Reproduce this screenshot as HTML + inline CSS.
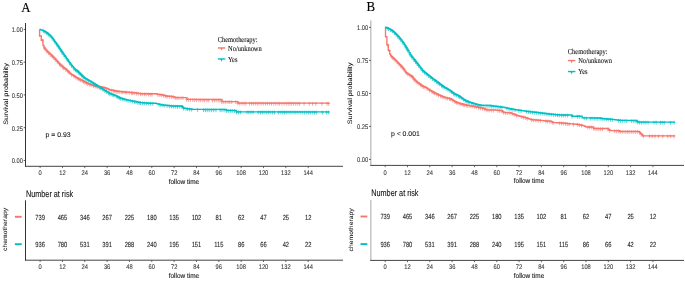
<!DOCTYPE html>
<html><head><meta charset="utf-8"><style>
html,body{margin:0;padding:0;background:#fff;}
svg{display:block;will-change:transform;}
text{text-rendering:geometricPrecision;}
</style></head><body>
<svg width="685" height="283" viewBox="0 0 685 283">
<rect width="685" height="283" fill="#fff"/>
<text transform="translate(21.30,11.50) scale(0.95,1.0)" font-family='"Liberation Serif", serif' font-size="13.6" fill="#000" stroke="#000" stroke-width="0.1">A</text>
<line x1="25.50" y1="23.00" x2="25.50" y2="166.80" stroke="#333" stroke-width="1.0"/>
<line x1="23.70" y1="160.45" x2="25.50" y2="160.45" stroke="#333" stroke-width="0.8"/>
<text transform="translate(22.90,163.45) scale(0.86,1.0)" text-anchor="end" font-family='"Liberation Sans", sans-serif' font-size="6.7" fill="#3a3a3a" stroke="#3a3a3a" stroke-width="0.1">0.00</text>
<line x1="23.70" y1="127.69" x2="25.50" y2="127.69" stroke="#333" stroke-width="0.8"/>
<text transform="translate(22.90,130.69) scale(0.86,1.0)" text-anchor="end" font-family='"Liberation Sans", sans-serif' font-size="6.7" fill="#3a3a3a" stroke="#3a3a3a" stroke-width="0.1">0.25</text>
<line x1="23.70" y1="94.92" x2="25.50" y2="94.92" stroke="#333" stroke-width="0.8"/>
<text transform="translate(22.90,97.92) scale(0.86,1.0)" text-anchor="end" font-family='"Liberation Sans", sans-serif' font-size="6.7" fill="#3a3a3a" stroke="#3a3a3a" stroke-width="0.1">0.50</text>
<line x1="23.70" y1="62.16" x2="25.50" y2="62.16" stroke="#333" stroke-width="0.8"/>
<text transform="translate(22.90,65.16) scale(0.86,1.0)" text-anchor="end" font-family='"Liberation Sans", sans-serif' font-size="6.7" fill="#3a3a3a" stroke="#3a3a3a" stroke-width="0.1">0.75</text>
<line x1="23.70" y1="29.40" x2="25.50" y2="29.40" stroke="#333" stroke-width="0.8"/>
<text transform="translate(22.90,32.40) scale(0.86,1.0)" text-anchor="end" font-family='"Liberation Sans", sans-serif' font-size="6.7" fill="#3a3a3a" stroke="#3a3a3a" stroke-width="0.1">1.00</text>
<line x1="25.00" y1="166.30" x2="343.00" y2="166.30" stroke="#444" stroke-width="1.0"/>
<line x1="40.10" y1="166.30" x2="40.10" y2="168.10" stroke="#444" stroke-width="0.8"/>
<text transform="translate(40.10,175.20) scale(0.86,1.0)" text-anchor="middle" font-family='"Liberation Sans", sans-serif' font-size="6.7" fill="#3a3a3a" stroke="#3a3a3a" stroke-width="0.1">0</text>
<line x1="62.44" y1="166.30" x2="62.44" y2="168.10" stroke="#444" stroke-width="0.8"/>
<text transform="translate(62.44,175.20) scale(0.86,1.0)" text-anchor="middle" font-family='"Liberation Sans", sans-serif' font-size="6.7" fill="#3a3a3a" stroke="#3a3a3a" stroke-width="0.1">12</text>
<line x1="84.78" y1="166.30" x2="84.78" y2="168.10" stroke="#444" stroke-width="0.8"/>
<text transform="translate(84.78,175.20) scale(0.86,1.0)" text-anchor="middle" font-family='"Liberation Sans", sans-serif' font-size="6.7" fill="#3a3a3a" stroke="#3a3a3a" stroke-width="0.1">24</text>
<line x1="107.12" y1="166.30" x2="107.12" y2="168.10" stroke="#444" stroke-width="0.8"/>
<text transform="translate(107.12,175.20) scale(0.86,1.0)" text-anchor="middle" font-family='"Liberation Sans", sans-serif' font-size="6.7" fill="#3a3a3a" stroke="#3a3a3a" stroke-width="0.1">36</text>
<line x1="129.46" y1="166.30" x2="129.46" y2="168.10" stroke="#444" stroke-width="0.8"/>
<text transform="translate(129.46,175.20) scale(0.86,1.0)" text-anchor="middle" font-family='"Liberation Sans", sans-serif' font-size="6.7" fill="#3a3a3a" stroke="#3a3a3a" stroke-width="0.1">48</text>
<line x1="151.80" y1="166.30" x2="151.80" y2="168.10" stroke="#444" stroke-width="0.8"/>
<text transform="translate(151.80,175.20) scale(0.86,1.0)" text-anchor="middle" font-family='"Liberation Sans", sans-serif' font-size="6.7" fill="#3a3a3a" stroke="#3a3a3a" stroke-width="0.1">60</text>
<line x1="174.14" y1="166.30" x2="174.14" y2="168.10" stroke="#444" stroke-width="0.8"/>
<text transform="translate(174.14,175.20) scale(0.86,1.0)" text-anchor="middle" font-family='"Liberation Sans", sans-serif' font-size="6.7" fill="#3a3a3a" stroke="#3a3a3a" stroke-width="0.1">72</text>
<line x1="196.48" y1="166.30" x2="196.48" y2="168.10" stroke="#444" stroke-width="0.8"/>
<text transform="translate(196.48,175.20) scale(0.86,1.0)" text-anchor="middle" font-family='"Liberation Sans", sans-serif' font-size="6.7" fill="#3a3a3a" stroke="#3a3a3a" stroke-width="0.1">84</text>
<line x1="218.82" y1="166.30" x2="218.82" y2="168.10" stroke="#444" stroke-width="0.8"/>
<text transform="translate(218.82,175.20) scale(0.86,1.0)" text-anchor="middle" font-family='"Liberation Sans", sans-serif' font-size="6.7" fill="#3a3a3a" stroke="#3a3a3a" stroke-width="0.1">96</text>
<line x1="241.16" y1="166.30" x2="241.16" y2="168.10" stroke="#444" stroke-width="0.8"/>
<text transform="translate(241.16,175.20) scale(0.86,1.0)" text-anchor="middle" font-family='"Liberation Sans", sans-serif' font-size="6.7" fill="#3a3a3a" stroke="#3a3a3a" stroke-width="0.1">108</text>
<line x1="263.50" y1="166.30" x2="263.50" y2="168.10" stroke="#444" stroke-width="0.8"/>
<text transform="translate(263.50,175.20) scale(0.86,1.0)" text-anchor="middle" font-family='"Liberation Sans", sans-serif' font-size="6.7" fill="#3a3a3a" stroke="#3a3a3a" stroke-width="0.1">120</text>
<line x1="285.84" y1="166.30" x2="285.84" y2="168.10" stroke="#444" stroke-width="0.8"/>
<text transform="translate(285.84,175.20) scale(0.86,1.0)" text-anchor="middle" font-family='"Liberation Sans", sans-serif' font-size="6.7" fill="#3a3a3a" stroke="#3a3a3a" stroke-width="0.1">132</text>
<line x1="308.18" y1="166.30" x2="308.18" y2="168.10" stroke="#444" stroke-width="0.8"/>
<text transform="translate(308.18,175.20) scale(0.86,1.0)" text-anchor="middle" font-family='"Liberation Sans", sans-serif' font-size="6.7" fill="#3a3a3a" stroke="#3a3a3a" stroke-width="0.1">144</text>
<text transform="translate(183.90,184.10) scale(0.92,1.0)" text-anchor="middle" font-family='"Liberation Sans", sans-serif' font-size="7.0" fill="#111" stroke="#111" stroke-width="0.1">follow time</text>
<text transform="translate(7.70,94.00) rotate(-90) scale(1.0,0.87)" text-anchor="middle" font-family='"Liberation Sans", sans-serif' font-size="7.35" fill="#111" stroke="#111" stroke-width="0.05">Survival probability</text>
<text transform="translate(45.60,137.20)" font-family='"Liberation Sans", sans-serif' font-size="6.9" fill="#222" stroke="#222" stroke-width="0.1">p = 0.93</text>
<text transform="translate(217.70,41.80) scale(0.85,1.0)" font-family='"Liberation Serif", serif' font-size="7.6" fill="#111" stroke="#111" stroke-width="0.1">Chemotherapy:</text>
<line x1="217.90" y1="47.95" x2="225.30" y2="47.95" stroke="#F8766D" stroke-width="1.4"/>
<path d="M220.40,47.95L222.60,47.95L221.50,50.85Z" fill="#F8766D"/>
<text transform="translate(228.05,50.60) scale(0.85,1.0)" font-family='"Liberation Serif", serif' font-size="7.6" fill="#111" stroke="#111" stroke-width="0.1">No/unknown</text>
<line x1="217.90" y1="58.95" x2="225.30" y2="58.95" stroke="#00BFC4" stroke-width="1.4"/>
<path d="M220.40,58.95L222.60,58.95L221.50,61.85Z" fill="#00BFC4"/>
<text transform="translate(228.05,61.60) scale(0.85,1.0)" font-family='"Liberation Serif", serif' font-size="7.6" fill="#111" stroke="#111" stroke-width="0.1">Yes</text>
<text transform="translate(26.00,196.70) scale(0.78,1.0)" font-family='"Liberation Sans", sans-serif' font-size="9.3" fill="#111" stroke="#111" stroke-width="0.1">Number at risk</text>
<line x1="25.50" y1="200.30" x2="25.50" y2="260.70" stroke="#333" stroke-width="1.0"/>
<line x1="25.00" y1="260.20" x2="343.00" y2="260.20" stroke="#444" stroke-width="1.0"/>
<line x1="40.10" y1="260.20" x2="40.10" y2="262.00" stroke="#444" stroke-width="0.8"/>
<text transform="translate(40.10,269.00) scale(0.86,1.0)" text-anchor="middle" font-family='"Liberation Sans", sans-serif' font-size="6.7" fill="#3a3a3a" stroke="#3a3a3a" stroke-width="0.1">0</text>
<text transform="translate(40.10,219.70) scale(0.78,1.0)" text-anchor="middle" font-family='"Liberation Sans", sans-serif' font-size="7.4" fill="#222" stroke="#222" stroke-width="0.1">739</text>
<text transform="translate(40.10,246.90) scale(0.78,1.0)" text-anchor="middle" font-family='"Liberation Sans", sans-serif' font-size="7.4" fill="#222" stroke="#222" stroke-width="0.1">936</text>
<line x1="62.44" y1="260.20" x2="62.44" y2="262.00" stroke="#444" stroke-width="0.8"/>
<text transform="translate(62.44,269.00) scale(0.86,1.0)" text-anchor="middle" font-family='"Liberation Sans", sans-serif' font-size="6.7" fill="#3a3a3a" stroke="#3a3a3a" stroke-width="0.1">12</text>
<text transform="translate(62.44,219.70) scale(0.78,1.0)" text-anchor="middle" font-family='"Liberation Sans", sans-serif' font-size="7.4" fill="#222" stroke="#222" stroke-width="0.1">465</text>
<text transform="translate(62.44,246.90) scale(0.78,1.0)" text-anchor="middle" font-family='"Liberation Sans", sans-serif' font-size="7.4" fill="#222" stroke="#222" stroke-width="0.1">780</text>
<line x1="84.78" y1="260.20" x2="84.78" y2="262.00" stroke="#444" stroke-width="0.8"/>
<text transform="translate(84.78,269.00) scale(0.86,1.0)" text-anchor="middle" font-family='"Liberation Sans", sans-serif' font-size="6.7" fill="#3a3a3a" stroke="#3a3a3a" stroke-width="0.1">24</text>
<text transform="translate(84.78,219.70) scale(0.78,1.0)" text-anchor="middle" font-family='"Liberation Sans", sans-serif' font-size="7.4" fill="#222" stroke="#222" stroke-width="0.1">346</text>
<text transform="translate(84.78,246.90) scale(0.78,1.0)" text-anchor="middle" font-family='"Liberation Sans", sans-serif' font-size="7.4" fill="#222" stroke="#222" stroke-width="0.1">531</text>
<line x1="107.12" y1="260.20" x2="107.12" y2="262.00" stroke="#444" stroke-width="0.8"/>
<text transform="translate(107.12,269.00) scale(0.86,1.0)" text-anchor="middle" font-family='"Liberation Sans", sans-serif' font-size="6.7" fill="#3a3a3a" stroke="#3a3a3a" stroke-width="0.1">36</text>
<text transform="translate(107.12,219.70) scale(0.78,1.0)" text-anchor="middle" font-family='"Liberation Sans", sans-serif' font-size="7.4" fill="#222" stroke="#222" stroke-width="0.1">267</text>
<text transform="translate(107.12,246.90) scale(0.78,1.0)" text-anchor="middle" font-family='"Liberation Sans", sans-serif' font-size="7.4" fill="#222" stroke="#222" stroke-width="0.1">391</text>
<line x1="129.46" y1="260.20" x2="129.46" y2="262.00" stroke="#444" stroke-width="0.8"/>
<text transform="translate(129.46,269.00) scale(0.86,1.0)" text-anchor="middle" font-family='"Liberation Sans", sans-serif' font-size="6.7" fill="#3a3a3a" stroke="#3a3a3a" stroke-width="0.1">48</text>
<text transform="translate(129.46,219.70) scale(0.78,1.0)" text-anchor="middle" font-family='"Liberation Sans", sans-serif' font-size="7.4" fill="#222" stroke="#222" stroke-width="0.1">225</text>
<text transform="translate(129.46,246.90) scale(0.78,1.0)" text-anchor="middle" font-family='"Liberation Sans", sans-serif' font-size="7.4" fill="#222" stroke="#222" stroke-width="0.1">288</text>
<line x1="151.80" y1="260.20" x2="151.80" y2="262.00" stroke="#444" stroke-width="0.8"/>
<text transform="translate(151.80,269.00) scale(0.86,1.0)" text-anchor="middle" font-family='"Liberation Sans", sans-serif' font-size="6.7" fill="#3a3a3a" stroke="#3a3a3a" stroke-width="0.1">60</text>
<text transform="translate(151.80,219.70) scale(0.78,1.0)" text-anchor="middle" font-family='"Liberation Sans", sans-serif' font-size="7.4" fill="#222" stroke="#222" stroke-width="0.1">180</text>
<text transform="translate(151.80,246.90) scale(0.78,1.0)" text-anchor="middle" font-family='"Liberation Sans", sans-serif' font-size="7.4" fill="#222" stroke="#222" stroke-width="0.1">240</text>
<line x1="174.14" y1="260.20" x2="174.14" y2="262.00" stroke="#444" stroke-width="0.8"/>
<text transform="translate(174.14,269.00) scale(0.86,1.0)" text-anchor="middle" font-family='"Liberation Sans", sans-serif' font-size="6.7" fill="#3a3a3a" stroke="#3a3a3a" stroke-width="0.1">72</text>
<text transform="translate(174.14,219.70) scale(0.78,1.0)" text-anchor="middle" font-family='"Liberation Sans", sans-serif' font-size="7.4" fill="#222" stroke="#222" stroke-width="0.1">135</text>
<text transform="translate(174.14,246.90) scale(0.78,1.0)" text-anchor="middle" font-family='"Liberation Sans", sans-serif' font-size="7.4" fill="#222" stroke="#222" stroke-width="0.1">195</text>
<line x1="196.48" y1="260.20" x2="196.48" y2="262.00" stroke="#444" stroke-width="0.8"/>
<text transform="translate(196.48,269.00) scale(0.86,1.0)" text-anchor="middle" font-family='"Liberation Sans", sans-serif' font-size="6.7" fill="#3a3a3a" stroke="#3a3a3a" stroke-width="0.1">84</text>
<text transform="translate(196.48,219.70) scale(0.78,1.0)" text-anchor="middle" font-family='"Liberation Sans", sans-serif' font-size="7.4" fill="#222" stroke="#222" stroke-width="0.1">102</text>
<text transform="translate(196.48,246.90) scale(0.78,1.0)" text-anchor="middle" font-family='"Liberation Sans", sans-serif' font-size="7.4" fill="#222" stroke="#222" stroke-width="0.1">151</text>
<line x1="218.82" y1="260.20" x2="218.82" y2="262.00" stroke="#444" stroke-width="0.8"/>
<text transform="translate(218.82,269.00) scale(0.86,1.0)" text-anchor="middle" font-family='"Liberation Sans", sans-serif' font-size="6.7" fill="#3a3a3a" stroke="#3a3a3a" stroke-width="0.1">96</text>
<text transform="translate(218.82,219.70) scale(0.78,1.0)" text-anchor="middle" font-family='"Liberation Sans", sans-serif' font-size="7.4" fill="#222" stroke="#222" stroke-width="0.1">81</text>
<text transform="translate(218.82,246.90) scale(0.78,1.0)" text-anchor="middle" font-family='"Liberation Sans", sans-serif' font-size="7.4" fill="#222" stroke="#222" stroke-width="0.1">115</text>
<line x1="241.16" y1="260.20" x2="241.16" y2="262.00" stroke="#444" stroke-width="0.8"/>
<text transform="translate(241.16,269.00) scale(0.86,1.0)" text-anchor="middle" font-family='"Liberation Sans", sans-serif' font-size="6.7" fill="#3a3a3a" stroke="#3a3a3a" stroke-width="0.1">108</text>
<text transform="translate(241.16,219.70) scale(0.78,1.0)" text-anchor="middle" font-family='"Liberation Sans", sans-serif' font-size="7.4" fill="#222" stroke="#222" stroke-width="0.1">62</text>
<text transform="translate(241.16,246.90) scale(0.78,1.0)" text-anchor="middle" font-family='"Liberation Sans", sans-serif' font-size="7.4" fill="#222" stroke="#222" stroke-width="0.1">86</text>
<line x1="263.50" y1="260.20" x2="263.50" y2="262.00" stroke="#444" stroke-width="0.8"/>
<text transform="translate(263.50,269.00) scale(0.86,1.0)" text-anchor="middle" font-family='"Liberation Sans", sans-serif' font-size="6.7" fill="#3a3a3a" stroke="#3a3a3a" stroke-width="0.1">120</text>
<text transform="translate(263.50,219.70) scale(0.78,1.0)" text-anchor="middle" font-family='"Liberation Sans", sans-serif' font-size="7.4" fill="#222" stroke="#222" stroke-width="0.1">47</text>
<text transform="translate(263.50,246.90) scale(0.78,1.0)" text-anchor="middle" font-family='"Liberation Sans", sans-serif' font-size="7.4" fill="#222" stroke="#222" stroke-width="0.1">66</text>
<line x1="285.84" y1="260.20" x2="285.84" y2="262.00" stroke="#444" stroke-width="0.8"/>
<text transform="translate(285.84,269.00) scale(0.86,1.0)" text-anchor="middle" font-family='"Liberation Sans", sans-serif' font-size="6.7" fill="#3a3a3a" stroke="#3a3a3a" stroke-width="0.1">132</text>
<text transform="translate(285.84,219.70) scale(0.78,1.0)" text-anchor="middle" font-family='"Liberation Sans", sans-serif' font-size="7.4" fill="#222" stroke="#222" stroke-width="0.1">25</text>
<text transform="translate(285.84,246.90) scale(0.78,1.0)" text-anchor="middle" font-family='"Liberation Sans", sans-serif' font-size="7.4" fill="#222" stroke="#222" stroke-width="0.1">42</text>
<line x1="308.18" y1="260.20" x2="308.18" y2="262.00" stroke="#444" stroke-width="0.8"/>
<text transform="translate(308.18,269.00) scale(0.86,1.0)" text-anchor="middle" font-family='"Liberation Sans", sans-serif' font-size="6.7" fill="#3a3a3a" stroke="#3a3a3a" stroke-width="0.1">144</text>
<text transform="translate(308.18,219.70) scale(0.78,1.0)" text-anchor="middle" font-family='"Liberation Sans", sans-serif' font-size="7.4" fill="#222" stroke="#222" stroke-width="0.1">12</text>
<text transform="translate(308.18,246.90) scale(0.78,1.0)" text-anchor="middle" font-family='"Liberation Sans", sans-serif' font-size="7.4" fill="#222" stroke="#222" stroke-width="0.1">22</text>
<text transform="translate(183.90,277.80) scale(0.92,1.0)" text-anchor="middle" font-family='"Liberation Sans", sans-serif' font-size="7.0" fill="#111" stroke="#111" stroke-width="0.1">follow time</text>
<line x1="14.90" y1="216.80" x2="21.70" y2="216.80" stroke="#F8766D" stroke-width="1.9"/>
<line x1="14.90" y1="244.20" x2="21.70" y2="244.20" stroke="#00BFC4" stroke-width="1.9"/>
<text transform="translate(7.40,229.45) rotate(-90) scale(1.0,0.9)" text-anchor="middle" font-family='"Liberation Sans", sans-serif' font-size="6.8" fill="#111" stroke="#111" stroke-width="0.05">chemotherapy</text>
<text transform="translate(366.60,10.90) scale(0.95,1.0)" font-family='"Liberation Serif", serif' font-size="13.6" fill="#000" stroke="#000" stroke-width="0.1">B</text>
<line x1="370.80" y1="20.50" x2="370.80" y2="165.90" stroke="#bbb" stroke-width="1.3"/>
<line x1="369.00" y1="159.40" x2="370.80" y2="159.40" stroke="#333" stroke-width="0.8"/>
<text transform="translate(368.20,162.20) scale(0.86,1.0)" text-anchor="end" font-family='"Liberation Sans", sans-serif' font-size="6.7" fill="#3a3a3a" stroke="#3a3a3a" stroke-width="0.1">0.00</text>
<line x1="369.00" y1="126.40" x2="370.80" y2="126.40" stroke="#333" stroke-width="0.8"/>
<text transform="translate(368.20,129.20) scale(0.86,1.0)" text-anchor="end" font-family='"Liberation Sans", sans-serif' font-size="6.7" fill="#3a3a3a" stroke="#3a3a3a" stroke-width="0.1">0.25</text>
<line x1="369.00" y1="93.40" x2="370.80" y2="93.40" stroke="#333" stroke-width="0.8"/>
<text transform="translate(368.20,96.20) scale(0.86,1.0)" text-anchor="end" font-family='"Liberation Sans", sans-serif' font-size="6.7" fill="#3a3a3a" stroke="#3a3a3a" stroke-width="0.1">0.50</text>
<line x1="369.00" y1="60.40" x2="370.80" y2="60.40" stroke="#333" stroke-width="0.8"/>
<text transform="translate(368.20,63.20) scale(0.86,1.0)" text-anchor="end" font-family='"Liberation Sans", sans-serif' font-size="6.7" fill="#3a3a3a" stroke="#3a3a3a" stroke-width="0.1">0.75</text>
<line x1="369.00" y1="27.40" x2="370.80" y2="27.40" stroke="#333" stroke-width="0.8"/>
<text transform="translate(368.20,30.20) scale(0.86,1.0)" text-anchor="end" font-family='"Liberation Sans", sans-serif' font-size="6.7" fill="#3a3a3a" stroke="#3a3a3a" stroke-width="0.1">1.00</text>
<line x1="370.30" y1="165.40" x2="684.00" y2="165.40" stroke="#444" stroke-width="1.0"/>
<line x1="385.20" y1="165.40" x2="385.20" y2="167.20" stroke="#444" stroke-width="0.8"/>
<text transform="translate(385.20,175.00) scale(0.86,1.0)" text-anchor="middle" font-family='"Liberation Sans", sans-serif' font-size="6.7" fill="#3a3a3a" stroke="#3a3a3a" stroke-width="0.1">0</text>
<line x1="407.51" y1="165.40" x2="407.51" y2="167.20" stroke="#444" stroke-width="0.8"/>
<text transform="translate(407.51,175.00) scale(0.86,1.0)" text-anchor="middle" font-family='"Liberation Sans", sans-serif' font-size="6.7" fill="#3a3a3a" stroke="#3a3a3a" stroke-width="0.1">12</text>
<line x1="429.82" y1="165.40" x2="429.82" y2="167.20" stroke="#444" stroke-width="0.8"/>
<text transform="translate(429.82,175.00) scale(0.86,1.0)" text-anchor="middle" font-family='"Liberation Sans", sans-serif' font-size="6.7" fill="#3a3a3a" stroke="#3a3a3a" stroke-width="0.1">24</text>
<line x1="452.13" y1="165.40" x2="452.13" y2="167.20" stroke="#444" stroke-width="0.8"/>
<text transform="translate(452.13,175.00) scale(0.86,1.0)" text-anchor="middle" font-family='"Liberation Sans", sans-serif' font-size="6.7" fill="#3a3a3a" stroke="#3a3a3a" stroke-width="0.1">36</text>
<line x1="474.44" y1="165.40" x2="474.44" y2="167.20" stroke="#444" stroke-width="0.8"/>
<text transform="translate(474.44,175.00) scale(0.86,1.0)" text-anchor="middle" font-family='"Liberation Sans", sans-serif' font-size="6.7" fill="#3a3a3a" stroke="#3a3a3a" stroke-width="0.1">48</text>
<line x1="496.75" y1="165.40" x2="496.75" y2="167.20" stroke="#444" stroke-width="0.8"/>
<text transform="translate(496.75,175.00) scale(0.86,1.0)" text-anchor="middle" font-family='"Liberation Sans", sans-serif' font-size="6.7" fill="#3a3a3a" stroke="#3a3a3a" stroke-width="0.1">60</text>
<line x1="519.06" y1="165.40" x2="519.06" y2="167.20" stroke="#444" stroke-width="0.8"/>
<text transform="translate(519.06,175.00) scale(0.86,1.0)" text-anchor="middle" font-family='"Liberation Sans", sans-serif' font-size="6.7" fill="#3a3a3a" stroke="#3a3a3a" stroke-width="0.1">72</text>
<line x1="541.37" y1="165.40" x2="541.37" y2="167.20" stroke="#444" stroke-width="0.8"/>
<text transform="translate(541.37,175.00) scale(0.86,1.0)" text-anchor="middle" font-family='"Liberation Sans", sans-serif' font-size="6.7" fill="#3a3a3a" stroke="#3a3a3a" stroke-width="0.1">84</text>
<line x1="563.68" y1="165.40" x2="563.68" y2="167.20" stroke="#444" stroke-width="0.8"/>
<text transform="translate(563.68,175.00) scale(0.86,1.0)" text-anchor="middle" font-family='"Liberation Sans", sans-serif' font-size="6.7" fill="#3a3a3a" stroke="#3a3a3a" stroke-width="0.1">96</text>
<line x1="585.99" y1="165.40" x2="585.99" y2="167.20" stroke="#444" stroke-width="0.8"/>
<text transform="translate(585.99,175.00) scale(0.86,1.0)" text-anchor="middle" font-family='"Liberation Sans", sans-serif' font-size="6.7" fill="#3a3a3a" stroke="#3a3a3a" stroke-width="0.1">108</text>
<line x1="608.30" y1="165.40" x2="608.30" y2="167.20" stroke="#444" stroke-width="0.8"/>
<text transform="translate(608.30,175.00) scale(0.86,1.0)" text-anchor="middle" font-family='"Liberation Sans", sans-serif' font-size="6.7" fill="#3a3a3a" stroke="#3a3a3a" stroke-width="0.1">120</text>
<line x1="630.61" y1="165.40" x2="630.61" y2="167.20" stroke="#444" stroke-width="0.8"/>
<text transform="translate(630.61,175.00) scale(0.86,1.0)" text-anchor="middle" font-family='"Liberation Sans", sans-serif' font-size="6.7" fill="#3a3a3a" stroke="#3a3a3a" stroke-width="0.1">132</text>
<line x1="652.92" y1="165.40" x2="652.92" y2="167.20" stroke="#444" stroke-width="0.8"/>
<text transform="translate(652.92,175.00) scale(0.86,1.0)" text-anchor="middle" font-family='"Liberation Sans", sans-serif' font-size="6.7" fill="#3a3a3a" stroke="#3a3a3a" stroke-width="0.1">144</text>
<text transform="translate(529.00,183.00) scale(0.92,1.0)" text-anchor="middle" font-family='"Liberation Sans", sans-serif' font-size="7.0" fill="#111" stroke="#111" stroke-width="0.1">follow time</text>
<text transform="translate(352.40,93.50) rotate(-90) scale(1.0,0.87)" text-anchor="middle" font-family='"Liberation Sans", sans-serif' font-size="7.35" fill="#111" stroke="#111" stroke-width="0.05">Survival probability</text>
<text transform="translate(390.90,136.30)" font-family='"Liberation Sans", sans-serif' font-size="6.9" fill="#222" stroke="#222" stroke-width="0.1">p &lt; 0.001</text>
<text transform="translate(567.80,54.40) scale(0.85,1.0)" font-family='"Liberation Serif", serif' font-size="7.6" fill="#111" stroke="#111" stroke-width="0.1">Chemotherapy:</text>
<line x1="568.00" y1="60.55" x2="575.40" y2="60.55" stroke="#F8766D" stroke-width="1.4"/>
<path d="M570.50,60.55L572.70,60.55L571.60,63.45Z" fill="#F8766D"/>
<text transform="translate(578.15,63.20) scale(0.85,1.0)" font-family='"Liberation Serif", serif' font-size="7.6" fill="#111" stroke="#111" stroke-width="0.1">No/unknown</text>
<line x1="568.00" y1="71.55" x2="575.40" y2="71.55" stroke="#00BFC4" stroke-width="1.4"/>
<path d="M570.50,71.55L572.70,71.55L571.60,74.45Z" fill="#00BFC4"/>
<text transform="translate(578.15,74.20) scale(0.85,1.0)" font-family='"Liberation Serif", serif' font-size="7.6" fill="#111" stroke="#111" stroke-width="0.1">Yes</text>
<text transform="translate(371.30,196.00) scale(0.78,1.0)" font-family='"Liberation Sans", sans-serif' font-size="9.3" fill="#111" stroke="#111" stroke-width="0.1">Number at risk</text>
<line x1="370.80" y1="199.90" x2="370.80" y2="260.90" stroke="#bbb" stroke-width="1.3"/>
<line x1="370.30" y1="260.40" x2="684.00" y2="260.40" stroke="#444" stroke-width="1.0"/>
<line x1="385.20" y1="260.40" x2="385.20" y2="262.20" stroke="#444" stroke-width="0.8"/>
<text transform="translate(385.20,269.20) scale(0.86,1.0)" text-anchor="middle" font-family='"Liberation Sans", sans-serif' font-size="6.7" fill="#3a3a3a" stroke="#3a3a3a" stroke-width="0.1">0</text>
<text transform="translate(385.20,219.40) scale(0.78,1.0)" text-anchor="middle" font-family='"Liberation Sans", sans-serif' font-size="7.4" fill="#222" stroke="#222" stroke-width="0.1">739</text>
<text transform="translate(385.20,246.80) scale(0.78,1.0)" text-anchor="middle" font-family='"Liberation Sans", sans-serif' font-size="7.4" fill="#222" stroke="#222" stroke-width="0.1">936</text>
<line x1="407.51" y1="260.40" x2="407.51" y2="262.20" stroke="#444" stroke-width="0.8"/>
<text transform="translate(407.51,269.20) scale(0.86,1.0)" text-anchor="middle" font-family='"Liberation Sans", sans-serif' font-size="6.7" fill="#3a3a3a" stroke="#3a3a3a" stroke-width="0.1">12</text>
<text transform="translate(407.51,219.40) scale(0.78,1.0)" text-anchor="middle" font-family='"Liberation Sans", sans-serif' font-size="7.4" fill="#222" stroke="#222" stroke-width="0.1">465</text>
<text transform="translate(407.51,246.80) scale(0.78,1.0)" text-anchor="middle" font-family='"Liberation Sans", sans-serif' font-size="7.4" fill="#222" stroke="#222" stroke-width="0.1">780</text>
<line x1="429.82" y1="260.40" x2="429.82" y2="262.20" stroke="#444" stroke-width="0.8"/>
<text transform="translate(429.82,269.20) scale(0.86,1.0)" text-anchor="middle" font-family='"Liberation Sans", sans-serif' font-size="6.7" fill="#3a3a3a" stroke="#3a3a3a" stroke-width="0.1">24</text>
<text transform="translate(429.82,219.40) scale(0.78,1.0)" text-anchor="middle" font-family='"Liberation Sans", sans-serif' font-size="7.4" fill="#222" stroke="#222" stroke-width="0.1">346</text>
<text transform="translate(429.82,246.80) scale(0.78,1.0)" text-anchor="middle" font-family='"Liberation Sans", sans-serif' font-size="7.4" fill="#222" stroke="#222" stroke-width="0.1">531</text>
<line x1="452.13" y1="260.40" x2="452.13" y2="262.20" stroke="#444" stroke-width="0.8"/>
<text transform="translate(452.13,269.20) scale(0.86,1.0)" text-anchor="middle" font-family='"Liberation Sans", sans-serif' font-size="6.7" fill="#3a3a3a" stroke="#3a3a3a" stroke-width="0.1">36</text>
<text transform="translate(452.13,219.40) scale(0.78,1.0)" text-anchor="middle" font-family='"Liberation Sans", sans-serif' font-size="7.4" fill="#222" stroke="#222" stroke-width="0.1">267</text>
<text transform="translate(452.13,246.80) scale(0.78,1.0)" text-anchor="middle" font-family='"Liberation Sans", sans-serif' font-size="7.4" fill="#222" stroke="#222" stroke-width="0.1">391</text>
<line x1="474.44" y1="260.40" x2="474.44" y2="262.20" stroke="#444" stroke-width="0.8"/>
<text transform="translate(474.44,269.20) scale(0.86,1.0)" text-anchor="middle" font-family='"Liberation Sans", sans-serif' font-size="6.7" fill="#3a3a3a" stroke="#3a3a3a" stroke-width="0.1">48</text>
<text transform="translate(474.44,219.40) scale(0.78,1.0)" text-anchor="middle" font-family='"Liberation Sans", sans-serif' font-size="7.4" fill="#222" stroke="#222" stroke-width="0.1">225</text>
<text transform="translate(474.44,246.80) scale(0.78,1.0)" text-anchor="middle" font-family='"Liberation Sans", sans-serif' font-size="7.4" fill="#222" stroke="#222" stroke-width="0.1">288</text>
<line x1="496.75" y1="260.40" x2="496.75" y2="262.20" stroke="#444" stroke-width="0.8"/>
<text transform="translate(496.75,269.20) scale(0.86,1.0)" text-anchor="middle" font-family='"Liberation Sans", sans-serif' font-size="6.7" fill="#3a3a3a" stroke="#3a3a3a" stroke-width="0.1">60</text>
<text transform="translate(496.75,219.40) scale(0.78,1.0)" text-anchor="middle" font-family='"Liberation Sans", sans-serif' font-size="7.4" fill="#222" stroke="#222" stroke-width="0.1">180</text>
<text transform="translate(496.75,246.80) scale(0.78,1.0)" text-anchor="middle" font-family='"Liberation Sans", sans-serif' font-size="7.4" fill="#222" stroke="#222" stroke-width="0.1">240</text>
<line x1="519.06" y1="260.40" x2="519.06" y2="262.20" stroke="#444" stroke-width="0.8"/>
<text transform="translate(519.06,269.20) scale(0.86,1.0)" text-anchor="middle" font-family='"Liberation Sans", sans-serif' font-size="6.7" fill="#3a3a3a" stroke="#3a3a3a" stroke-width="0.1">72</text>
<text transform="translate(519.06,219.40) scale(0.78,1.0)" text-anchor="middle" font-family='"Liberation Sans", sans-serif' font-size="7.4" fill="#222" stroke="#222" stroke-width="0.1">135</text>
<text transform="translate(519.06,246.80) scale(0.78,1.0)" text-anchor="middle" font-family='"Liberation Sans", sans-serif' font-size="7.4" fill="#222" stroke="#222" stroke-width="0.1">195</text>
<line x1="541.37" y1="260.40" x2="541.37" y2="262.20" stroke="#444" stroke-width="0.8"/>
<text transform="translate(541.37,269.20) scale(0.86,1.0)" text-anchor="middle" font-family='"Liberation Sans", sans-serif' font-size="6.7" fill="#3a3a3a" stroke="#3a3a3a" stroke-width="0.1">84</text>
<text transform="translate(541.37,219.40) scale(0.78,1.0)" text-anchor="middle" font-family='"Liberation Sans", sans-serif' font-size="7.4" fill="#222" stroke="#222" stroke-width="0.1">102</text>
<text transform="translate(541.37,246.80) scale(0.78,1.0)" text-anchor="middle" font-family='"Liberation Sans", sans-serif' font-size="7.4" fill="#222" stroke="#222" stroke-width="0.1">151</text>
<line x1="563.68" y1="260.40" x2="563.68" y2="262.20" stroke="#444" stroke-width="0.8"/>
<text transform="translate(563.68,269.20) scale(0.86,1.0)" text-anchor="middle" font-family='"Liberation Sans", sans-serif' font-size="6.7" fill="#3a3a3a" stroke="#3a3a3a" stroke-width="0.1">96</text>
<text transform="translate(563.68,219.40) scale(0.78,1.0)" text-anchor="middle" font-family='"Liberation Sans", sans-serif' font-size="7.4" fill="#222" stroke="#222" stroke-width="0.1">81</text>
<text transform="translate(563.68,246.80) scale(0.78,1.0)" text-anchor="middle" font-family='"Liberation Sans", sans-serif' font-size="7.4" fill="#222" stroke="#222" stroke-width="0.1">115</text>
<line x1="585.99" y1="260.40" x2="585.99" y2="262.20" stroke="#444" stroke-width="0.8"/>
<text transform="translate(585.99,269.20) scale(0.86,1.0)" text-anchor="middle" font-family='"Liberation Sans", sans-serif' font-size="6.7" fill="#3a3a3a" stroke="#3a3a3a" stroke-width="0.1">108</text>
<text transform="translate(585.99,219.40) scale(0.78,1.0)" text-anchor="middle" font-family='"Liberation Sans", sans-serif' font-size="7.4" fill="#222" stroke="#222" stroke-width="0.1">62</text>
<text transform="translate(585.99,246.80) scale(0.78,1.0)" text-anchor="middle" font-family='"Liberation Sans", sans-serif' font-size="7.4" fill="#222" stroke="#222" stroke-width="0.1">86</text>
<line x1="608.30" y1="260.40" x2="608.30" y2="262.20" stroke="#444" stroke-width="0.8"/>
<text transform="translate(608.30,269.20) scale(0.86,1.0)" text-anchor="middle" font-family='"Liberation Sans", sans-serif' font-size="6.7" fill="#3a3a3a" stroke="#3a3a3a" stroke-width="0.1">120</text>
<text transform="translate(608.30,219.40) scale(0.78,1.0)" text-anchor="middle" font-family='"Liberation Sans", sans-serif' font-size="7.4" fill="#222" stroke="#222" stroke-width="0.1">47</text>
<text transform="translate(608.30,246.80) scale(0.78,1.0)" text-anchor="middle" font-family='"Liberation Sans", sans-serif' font-size="7.4" fill="#222" stroke="#222" stroke-width="0.1">66</text>
<line x1="630.61" y1="260.40" x2="630.61" y2="262.20" stroke="#444" stroke-width="0.8"/>
<text transform="translate(630.61,269.20) scale(0.86,1.0)" text-anchor="middle" font-family='"Liberation Sans", sans-serif' font-size="6.7" fill="#3a3a3a" stroke="#3a3a3a" stroke-width="0.1">132</text>
<text transform="translate(630.61,219.40) scale(0.78,1.0)" text-anchor="middle" font-family='"Liberation Sans", sans-serif' font-size="7.4" fill="#222" stroke="#222" stroke-width="0.1">25</text>
<text transform="translate(630.61,246.80) scale(0.78,1.0)" text-anchor="middle" font-family='"Liberation Sans", sans-serif' font-size="7.4" fill="#222" stroke="#222" stroke-width="0.1">42</text>
<line x1="652.92" y1="260.40" x2="652.92" y2="262.20" stroke="#444" stroke-width="0.8"/>
<text transform="translate(652.92,269.20) scale(0.86,1.0)" text-anchor="middle" font-family='"Liberation Sans", sans-serif' font-size="6.7" fill="#3a3a3a" stroke="#3a3a3a" stroke-width="0.1">144</text>
<text transform="translate(652.92,219.40) scale(0.78,1.0)" text-anchor="middle" font-family='"Liberation Sans", sans-serif' font-size="7.4" fill="#222" stroke="#222" stroke-width="0.1">12</text>
<text transform="translate(652.92,246.80) scale(0.78,1.0)" text-anchor="middle" font-family='"Liberation Sans", sans-serif' font-size="7.4" fill="#222" stroke="#222" stroke-width="0.1">22</text>
<text transform="translate(529.00,278.00) scale(0.92,1.0)" text-anchor="middle" font-family='"Liberation Sans", sans-serif' font-size="7.0" fill="#111" stroke="#111" stroke-width="0.1">follow time</text>
<line x1="360.50" y1="216.50" x2="367.30" y2="216.50" stroke="#F8766D" stroke-width="1.9"/>
<line x1="360.50" y1="244.10" x2="367.30" y2="244.10" stroke="#00BFC4" stroke-width="1.9"/>
<text transform="translate(352.80,229.90) rotate(-90) scale(1.0,0.9)" text-anchor="middle" font-family='"Liberation Sans", sans-serif' font-size="6.8" fill="#111" stroke="#111" stroke-width="0.05">chemotherapy</text>
<path d="M39.60,29.50L39.60,36.00L41.30,36.00L41.30,40.20L43.00,40.20L43.00,45.50H44.00V47.50H45.00V48.98H46.00V50.11H47.00V51.24H48.00V52.25H49.00V53.15H50.00V54.05H51.00V54.98H52.00V55.95H53.00V56.93H54.00V57.91H55.00V59.00H56.00V60.12H57.00V61.24H58.00V62.34H59.00V63.42H60.00V64.50H61.00V65.39H62.00V66.27H63.00V67.16H64.00V67.99H65.00V68.77H66.00V69.54H67.00V70.32H68.00V71.30H69.00V72.30H70.00V73.30H71.00V74.15H72.00V74.78H73.00V75.41H74.00V76.04H75.00V76.67H76.00V77.30H77.00V77.94H78.00V78.46H79.00V78.98H80.00V79.49H81.00V80.01H82.00V80.52H83.00V81.03H84.00V81.55H85.00V82.05H86.00V82.55H87.00V83.05H88.00V83.55H89.00V83.99H90.00V84.38H91.00V84.77H92.00V85.16H93.00V85.46H94.00V85.76H95.00V86.05H96.00V86.29H97.00V86.46H98.00V86.63H99.00V86.79H100.00V86.95H101.00V87.10H102.00V87.26H103.00V87.44H104.00V87.62H105.00V87.80H106.00V88.24H107.00V88.68H108.00V89.12H109.00V89.56H110.00V89.81H111.00V90.03H112.00V90.26H113.00V90.49H114.00V90.72H115.00V90.95H116.00V91.18H117.00V91.29H118.00V91.39H119.00V91.49H120.00V91.58H121.00V91.68H122.00V91.78H123.00V91.88H124.00V91.95H125.00V92.01H126.00V92.08H127.00V92.14H128.00V92.20H129.00V92.30H130.00V92.40H131.00V92.50H132.00V92.59H133.00V92.69H134.00V92.79H135.00V92.89H136.00V93.03H137.00V93.17H138.00V93.31H139.00V93.46H140.00V93.60H141.00V93.71H142.00H143.00H144.00H145.00H146.00H147.00H148.00H149.00H150.00H151.00H152.00H153.00H154.00H155.00H156.00H157.00V94.31H158.00V94.42H159.00V94.52H160.00V94.63H161.00V94.74H162.00V94.85H163.00V95.05H164.00V95.36H165.00V95.67H166.00V95.98H167.00V96.22H168.00V96.27H169.00V96.32H170.00V96.37H171.00V96.43H172.00V96.48H173.00V96.74H174.00V97.13H175.00V97.52H176.00V97.60H177.00H178.00H179.00H180.00H181.00H182.00H183.00H184.00H185.00H186.00H187.00V99.42H188.00H189.00H190.00H191.00H192.00H193.00H194.00H195.00H196.00H197.00H198.00H199.00H200.00H201.00H202.00H203.00H204.00H205.00H206.00H207.00H208.00H209.00H210.00H211.00H212.00H213.00H214.00H215.00H216.00H217.00H218.00H219.00H220.00H221.00H222.00V101.60H223.00H224.00H225.00H226.00H227.00H228.00H229.00H230.00H231.00H232.00H233.00H234.00H235.00H236.00H237.00H238.00V103.10H239.00H240.00H241.00H242.00H243.00H244.00H245.00H246.00H247.00H248.00H249.00H250.00H251.00H252.00H253.00H254.00H255.00H256.00H257.00H258.00H259.00H260.00H261.00H262.00H263.00H264.00H265.00H266.00H267.00H268.00H269.00H270.00H271.00H272.00H273.00H274.00H275.00H276.00H277.00H278.00H279.00H280.00H281.00H282.00H283.00H284.00H285.00H286.00H287.00H288.00H289.00H290.00H291.00H292.00H293.00H294.00H295.00H296.00H297.00H298.00H299.00H300.00H301.00H302.00H303.00H304.00H305.00H306.00H307.00H308.00H309.00H310.00H311.00H312.00H313.00H314.00H315.00H316.00H317.00H318.00H319.00H320.00H321.00H322.00H323.00H324.00H325.00H326.00H327.00H328.00H329.00H329.30" fill="none" stroke="#F8766D" stroke-width="1.35"/><path d="M42.50,38.80v3.80M41.10,40.20h2.80M44.38,46.85v3.80M42.98,48.25h2.80M46.69,49.48v3.80M45.29,50.88h2.80M48.44,51.25v3.80M47.04,52.65h2.80M50.25,52.88v3.80M48.85,54.28h2.80M52.16,54.71v3.80M50.76,56.11h2.80M53.58,56.10v3.80M52.18,57.50h2.80M55.39,58.04v3.80M53.99,59.44h2.80M57.35,60.23v3.80M55.95,61.63h2.80M59.50,62.56v3.80M58.10,63.96h2.80M60.81,63.82v3.80M59.41,65.22h2.80M62.38,65.21v3.80M60.98,66.61h2.80M63.69,66.35v3.80M62.29,67.75h2.80M65.86,68.04v3.80M64.46,69.44h2.80M67.89,69.79v3.80M66.49,71.19h2.80M69.14,71.04v3.80M67.74,72.44h2.80M71.52,73.08v3.80M70.12,74.48h2.80M73.88,74.56v3.80M72.48,75.96h2.80M75.86,75.82v3.80M74.46,77.22h2.80M77.80,76.96v3.80M76.40,78.36h2.80M79.19,77.68v3.80M77.79,79.08h2.80M80.41,78.30v3.80M79.01,79.70h2.80M82.24,79.24v3.80M80.84,80.64h2.80M83.51,79.90v3.80M82.11,81.30h2.80M84.94,80.62v3.80M83.54,82.02h2.80M86.43,81.37v3.80M85.03,82.77h2.80M87.67,81.98v3.80M86.27,83.38h2.80M89.43,82.76v3.80M88.03,84.16h2.80M91.15,83.43v3.80M89.75,84.83h2.80M93.36,84.17v3.80M91.96,85.57h2.80M95.19,84.71v3.80M93.79,86.11h2.80M97.16,85.09v3.80M95.76,86.49h2.80M98.96,85.38v3.80M97.56,86.78h2.80M100.95,85.70v3.80M99.55,87.10h2.80M102.70,85.99v3.80M101.30,87.39h2.80M104.23,86.26v3.80M102.83,87.66h2.80M106.63,87.12v3.80M105.23,88.52h2.80M109.03,88.17v3.80M107.63,89.57h2.80M111.23,88.69v3.80M109.83,90.09h2.80M113.28,89.16v3.80M111.88,90.56h2.80M114.86,89.52v3.80M113.46,90.92h2.80M116.34,89.82v3.80M114.94,91.22h2.80M117.88,89.98v3.80M116.48,91.38h2.80M119.17,90.10v3.80M117.77,91.50h2.80M121.29,90.31v3.80M119.89,91.71h2.80M122.97,90.48v3.80M121.57,91.88h2.80M125.18,90.62v3.80M123.78,92.02h2.80M126.85,90.73v3.80M125.45,92.13h2.80M129.20,90.92v3.80M127.80,92.32h2.80M131.41,91.14v3.80M130.01,92.54h2.80M132.61,91.25v3.80M131.21,92.65h2.80M134.07,91.40v3.80M132.67,92.80h2.80M136.36,91.68v3.80M134.96,93.08h2.80M138.12,91.93v3.80M136.72,93.33h2.80M140.50,92.27v3.80M139.10,93.67h2.80M142.24,92.35v3.80M140.84,93.75h2.80M144.41,92.43v3.80M143.01,93.83h2.80M146.16,92.49v3.80M144.76,93.89h2.80M148.44,92.57v3.80M147.04,93.97h2.80M150.21,92.63v3.80M148.81,94.03h2.80M151.97,92.68v3.80M150.57,94.08h2.80M157.86,93.00v3.80M156.46,94.40h2.80M159.90,93.22v3.80M158.50,94.62h2.80M161.71,93.42v3.80M160.31,94.82h2.80M163.49,93.81v3.80M162.09,95.21h2.80M165.26,94.35v3.80M163.86,95.75h2.80M167.09,94.82v3.80M165.69,96.22h2.80M169.37,94.94v3.80M167.97,96.34h2.80M171.25,95.04v3.80M169.85,96.44h2.80M173.08,95.37v3.80M171.68,96.77h2.80M175.29,96.20v3.80M173.89,97.60h2.80M177.05,96.20v3.80M175.65,97.60h2.80M178.88,96.20v3.80M177.48,97.60h2.80M181.05,96.20v3.80M179.65,97.60h2.80M182.92,96.20v3.80M181.52,97.60h2.80M186.69,98.01v3.80M185.29,99.41h2.80M188.54,98.07v3.80M187.14,99.47h2.80M190.46,98.13v3.80M189.06,99.53h2.80M192.74,98.20v3.80M191.34,99.60h2.80M194.78,98.26v3.80M193.38,99.66h2.80M196.59,98.31v3.80M195.19,99.71h2.80M198.84,98.38v3.80M197.44,99.78h2.80M200.69,98.44v3.80M199.29,99.84h2.80M202.83,98.50v3.80M201.43,99.90h2.80M204.65,98.56v3.80M203.25,99.96h2.80M206.88,98.60v3.80M205.48,100.00h2.80M208.83,98.60v3.80M207.43,100.00h2.80M212.45,98.60v3.80M211.05,100.00h2.80M214.29,98.60v3.80M212.89,100.00h2.80M216.14,98.60v3.80M214.74,100.00h2.80M218.20,98.60v3.80M216.80,100.00h2.80M220.01,98.60v3.80M218.61,100.00h2.80M221.75,100.20v3.80M220.35,101.60h2.80M223.78,100.20v3.80M222.38,101.60h2.80M225.85,100.20v3.80M224.45,101.60h2.80M228.10,100.20v3.80M226.70,101.60h2.80M229.81,100.20v3.80M228.41,101.60h2.80M231.78,100.20v3.80M230.38,101.60h2.80M235.81,100.20v3.80M234.41,101.60h2.80M237.85,101.70v3.80M236.45,103.10h2.80M239.77,101.71v3.80M238.37,103.11h2.80M242.06,101.71v3.80M240.66,103.11h2.80M244.17,101.72v3.80M242.77,103.12h2.80M245.96,101.73v3.80M244.56,103.13h2.80M249.51,101.74v3.80M248.11,103.14h2.80M251.63,101.75v3.80M250.23,103.15h2.80M253.34,101.75v3.80M251.94,103.15h2.80M255.33,101.76v3.80M253.93,103.16h2.80M257.23,101.76v3.80M255.83,103.16h2.80M258.97,101.77v3.80M257.57,103.17h2.80M261.11,101.78v3.80M259.71,103.18h2.80M263.25,101.78v3.80M261.85,103.18h2.80M265.43,101.79v3.80M264.03,103.19h2.80M267.34,101.80v3.80M265.94,103.20h2.80M269.58,101.80v3.80M268.18,103.20h2.80M271.53,101.81v3.80M270.13,103.21h2.80M273.75,101.82v3.80M272.35,103.22h2.80M275.83,101.82v3.80M274.43,103.22h2.80M277.88,101.83v3.80M276.48,103.23h2.80M279.62,101.84v3.80M278.22,103.24h2.80M281.92,101.84v3.80M280.52,103.24h2.80M284.06,101.85v3.80M282.66,103.25h2.80M286.20,101.86v3.80M284.80,103.26h2.80M288.16,101.87v3.80M286.76,103.27h2.80M289.91,101.87v3.80M288.51,103.27h2.80M291.63,101.88v3.80M290.23,103.28h2.80M293.62,101.88v3.80M292.22,103.28h2.80M295.74,101.89v3.80M294.34,103.29h2.80M297.81,101.90v3.80M296.41,103.30h2.80M299.66,101.90v3.80M298.26,103.30h2.80M304.06,101.92v3.80M302.66,103.32h2.80M309.28,101.93v3.80M307.88,103.33h2.80M312.59,101.95v3.80M311.19,103.35h2.80M315.76,101.96v3.80M314.36,103.36h2.80M321.89,101.98v3.80M320.49,103.38h2.80M327.03,101.99v3.80M325.63,103.39h2.80M328.70,102.00v3.80M327.30,103.40h2.80" fill="none" stroke="#F8766D" stroke-width="0.65"/>
<path d="M39.50,29.50H40.50V29.78H41.50V30.06H42.50V30.42H43.50V30.86H44.50V31.30H45.50V32.00H46.50V32.70H47.50V33.40H48.50V34.31H49.50V35.23H50.50V36.14H51.50V37.28H52.50V38.65H53.50V40.01H54.50V41.37H55.50V42.75H56.50V44.14H57.50V45.53H58.50V46.98H59.50V48.48H60.50V49.97H61.50V51.45H62.50V52.88H63.50V54.32H64.50V55.76H65.50V57.19H66.50V58.61H67.50V60.04H68.50V61.44H69.50V62.79H70.50V64.15H71.50V65.50H72.50V66.68H73.50V67.86H74.50V69.05H75.50V69.86H76.50V70.51H77.50V71.29H78.50V72.26H79.50V73.23H80.50V74.20H81.50V75.20H82.50V76.20H83.50V77.20H84.50V78.03H85.50V78.60H86.50V79.16H87.50V79.73H88.50V80.30H89.50V80.91H90.50V81.52H91.50V82.13H92.50V82.75H93.50V83.38H94.50V84.01H95.50V84.64H96.50V85.24H97.50V85.84H98.50V86.44H99.50V87.07H100.50V87.75H101.50V88.43H102.50V89.09H103.50V89.71H104.50V90.33H105.50V90.95H106.50V91.57H107.50V92.19H108.50V92.82H109.50V93.34H110.50V93.71H111.50V94.09H112.50V94.46H113.50V94.86H114.50V95.26H115.50V95.66H116.50V96.12H117.50V96.68H118.50V97.23H119.50V97.79H120.50V98.15H121.50V98.47H122.50V98.78H123.50V99.08H124.50V99.33H125.50V99.58H126.50V99.83H127.50V100.08H128.50V100.30H129.50V100.50H130.50V100.69H131.50V100.89H132.50V101.09H133.50V101.28H134.50V101.48H135.50V101.69H136.50V101.90H137.50V102.11H138.50V102.33H139.50V102.51H140.50V102.58H141.50V102.66H142.50V102.73H143.50V102.80H144.50V102.87H145.50V102.94H146.50V103.01H147.50V103.08H148.50V103.15H149.50V103.21H150.50H151.50H152.50H153.50H154.50H155.50H156.50V103.63H157.50V103.88H158.50V104.14H159.50V104.39H160.50V104.65H161.50V104.85H162.50V104.96H163.50V105.07H164.50V105.18H165.50V105.30H166.50V105.41H167.50V105.52H168.50V105.64H169.50V105.75H170.50V105.86H171.50V105.98H172.50V106.04H173.50H174.50H175.50H176.50H177.50H178.50H179.50H180.50H181.50H182.50V107.23H183.50V108.16H184.50V108.30H185.50V108.43H186.50V108.57H187.50V108.71H188.50V108.85H189.50V108.99H190.50V109.13H191.50V109.27H192.50V109.32H193.50H194.50H195.50H196.50H197.50H198.50H199.50H200.50H201.50H202.50H203.50H204.50H205.50H206.50H207.50H208.50H209.50H210.50H211.50H212.50H213.50H214.50H215.50H216.50H217.50H218.50H219.50H220.50H221.50H222.50H223.50H224.50H225.50H226.50V110.50H227.50H228.50H229.50H230.50H231.50H232.50H233.50H234.50H235.50H236.50V111.90H237.50H238.50H239.50H240.50H241.50H242.50H243.50H244.50H245.50H246.50H247.50H248.50H249.50H250.50H251.50H252.50H253.50H254.50H255.50H256.50H257.50H258.50H259.50H260.50H261.50H262.50H263.50H264.50H265.50H266.50H267.50H268.50H269.50H270.50H271.50H272.50H273.50H274.50H275.50H276.50H277.50H278.50H279.50H280.50H281.50H282.50H283.50H284.50H285.50H286.50H287.50H288.50H289.50H290.50H291.50H292.50H293.50H294.50H295.50H296.50H297.50H298.50H299.50H300.50H301.50H302.50H303.50H304.50H305.50H306.50H307.50H308.50H309.50H310.50H311.50H312.50H313.50H314.50H315.50H316.50H317.50H318.50H319.50H320.50H321.50H322.50H323.50H324.50H325.50H326.50H327.50H328.50H329.30" fill="none" stroke="#00BFC4" stroke-width="1.35"/><path d="M43.28,29.36v3.80M41.88,30.76h2.80M44.88,30.16v3.80M43.48,31.56h2.80M46.87,31.56v3.80M45.47,32.96h2.80M48.31,32.74v3.80M46.91,34.14h2.80M50.03,34.31v3.80M48.63,35.71h2.80M52.20,36.83v3.80M50.80,38.23h2.80M54.49,39.97v3.80M53.09,41.37h2.80M56.75,43.09v3.80M55.35,44.49h2.80M58.41,45.45v3.80M57.01,46.85h2.80M60.31,48.29v3.80M58.91,49.69h2.80M61.89,50.61v3.80M60.49,52.01h2.80M63.25,52.57v3.80M61.85,53.97h2.80M65.05,55.14v3.80M63.65,56.54h2.80M67.26,58.29v3.80M65.86,59.69h2.80M69.47,61.36v3.80M68.07,62.76h2.80M71.53,64.13v3.80M70.13,65.53h2.80M73.87,66.90v3.80M72.47,68.30h2.80M75.40,68.39v3.80M74.00,69.79h2.80M76.80,69.31v3.80M75.40,70.71h2.80M78.54,70.90v3.80M77.14,72.30h2.80M80.07,72.39v3.80M78.67,73.79h2.80M81.53,73.83v3.80M80.13,75.23h2.80M83.23,75.53v3.80M81.83,76.93h2.80M85.18,77.01v3.80M83.78,78.41h2.80M86.97,78.03v3.80M85.57,79.43h2.80M88.55,78.93v3.80M87.15,80.33h2.80M90.76,80.28v3.80M89.36,81.68h2.80M93.13,81.75v3.80M91.73,83.15h2.80M94.88,82.85v3.80M93.48,84.25h2.80M96.17,83.64v3.80M94.77,85.04h2.80M97.40,84.38v3.80M96.00,85.78h2.80M99.65,85.77v3.80M98.25,87.17h2.80M100.90,86.62v3.80M99.50,88.02h2.80M102.95,87.97v3.80M101.55,89.37h2.80M104.84,89.14v3.80M103.44,90.54h2.80M106.41,90.11v3.80M105.01,91.51h2.80M108.56,91.45v3.80M107.16,92.85h2.80M109.78,92.04v3.80M108.38,93.44h2.80M111.14,92.55v3.80M109.74,93.95h2.80M112.89,93.22v3.80M111.49,94.62h2.80M114.12,93.71v3.80M112.72,95.11h2.80M116.31,94.62v3.80M114.91,96.02h2.80M117.80,95.44v3.80M116.40,96.84h2.80M119.17,96.20v3.80M117.77,97.60h2.80M120.42,96.73v3.80M119.02,98.13h2.80M122.38,97.34v3.80M120.98,98.74h2.80M124.12,97.83v3.80M122.72,99.23h2.80M126.07,98.32v3.80M124.67,99.72h2.80M128.06,98.81v3.80M126.66,100.21h2.80M130.23,99.24v3.80M128.83,100.64h2.80M132.58,99.70v3.80M131.18,101.10h2.80M134.60,100.10v3.80M133.20,101.50h2.80M136.04,100.40v3.80M134.64,101.80h2.80M137.81,100.78v3.80M136.41,102.18h2.80M139.22,101.08v3.80M137.82,102.48h2.80M140.43,101.18v3.80M139.03,102.58h2.80M142.56,101.33v3.80M141.16,102.73h2.80M144.43,101.46v3.80M143.03,102.86h2.80M146.55,101.61v3.80M145.15,103.01h2.80M148.61,101.76v3.80M147.21,103.16h2.80M150.55,101.86v3.80M149.15,103.26h2.80M152.79,101.96v3.80M151.39,103.36h2.80M159.09,102.89v3.80M157.69,104.29h2.80M160.87,103.34v3.80M159.47,104.74h2.80M162.94,103.61v3.80M161.54,105.01h2.80M164.87,103.83v3.80M163.47,105.23h2.80M167.10,104.08v3.80M165.70,105.48h2.80M169.36,104.34v3.80M167.96,105.74h2.80M171.46,104.57v3.80M170.06,105.97h2.80M173.59,104.69v3.80M172.19,106.09h2.80M175.67,104.79v3.80M174.27,106.19h2.80M177.50,104.88v3.80M176.10,106.28h2.80M179.79,104.99v3.80M178.39,106.39h2.80M181.81,105.09v3.80M180.41,106.49h2.80M183.70,106.78v3.80M182.30,108.18h2.80M185.92,107.09v3.80M184.52,108.49h2.80M187.67,107.34v3.80M186.27,108.74h2.80M189.70,107.62v3.80M188.30,109.02h2.80M191.69,107.90v3.80M190.29,109.30h2.80M197.62,108.08v3.80M196.22,109.48h2.80M203.52,108.26v3.80M202.12,109.66h2.80M205.42,108.32v3.80M204.02,109.72h2.80M207.20,108.38v3.80M205.80,109.78h2.80M209.21,108.40v3.80M207.81,109.80h2.80M211.42,108.40v3.80M210.02,109.80h2.80M213.68,108.40v3.80M212.28,109.80h2.80M215.95,108.40v3.80M214.55,109.80h2.80M220.12,108.40v3.80M218.72,109.80h2.80M221.99,108.40v3.80M220.59,109.80h2.80M224.08,108.40v3.80M222.68,109.80h2.80M226.28,109.10v3.80M224.88,110.50h2.80M228.17,109.10v3.80M226.77,110.50h2.80M230.38,109.10v3.80M228.98,110.50h2.80M232.20,109.10v3.80M230.80,110.50h2.80M234.48,109.10v3.80M233.08,110.50h2.80M236.53,110.50v3.80M235.13,111.90h2.80M238.55,110.50v3.80M237.15,111.90h2.80M240.61,110.51v3.80M239.21,111.91h2.80M247.02,110.52v3.80M245.62,111.92h2.80M248.96,110.53v3.80M247.56,111.93h2.80M251.00,110.53v3.80M249.60,111.93h2.80M253.11,110.54v3.80M251.71,111.94h2.80M258.23,110.55v3.80M256.83,111.95h2.80M260.50,110.55v3.80M259.10,111.95h2.80M262.36,110.56v3.80M260.96,111.96h2.80M264.14,110.56v3.80M262.74,111.96h2.80M266.33,110.56v3.80M264.93,111.96h2.80M268.31,110.57v3.80M266.91,111.97h2.80M270.13,110.57v3.80M268.73,111.97h2.80M272.38,110.58v3.80M270.98,111.98h2.80M274.55,110.58v3.80M273.15,111.98h2.80M278.63,110.59v3.80M277.23,111.99h2.80M280.75,110.60v3.80M279.35,112.00h2.80M282.66,110.60v3.80M281.26,112.00h2.80M284.42,110.60v3.80M283.02,112.00h2.80M286.20,110.61v3.80M284.80,112.01h2.80M288.05,110.61v3.80M286.65,112.01h2.80M290.06,110.62v3.80M288.66,112.02h2.80M291.99,110.62v3.80M290.59,112.02h2.80M294.01,110.62v3.80M292.61,112.02h2.80M295.83,110.63v3.80M294.43,112.03h2.80M297.91,110.63v3.80M296.51,112.03h2.80M300.12,110.64v3.80M298.72,112.04h2.80M302.34,110.64v3.80M300.94,112.04h2.80M304.48,110.65v3.80M303.08,112.05h2.80M306.72,110.65v3.80M305.32,112.05h2.80M308.61,110.66v3.80M307.21,112.06h2.80M310.44,110.66v3.80M309.04,112.06h2.80M312.68,110.66v3.80M311.28,112.06h2.80M314.52,110.67v3.80M313.12,112.07h2.80M316.38,110.67v3.80M314.98,112.07h2.80M322.37,110.69v3.80M320.97,112.09h2.80M326.56,110.69v3.80M325.16,112.09h2.80M328.70,110.70v3.80M327.30,112.10h2.80" fill="none" stroke="#00BFC4" stroke-width="0.65"/>
<path d="M385.50,27.20L385.50,36.70L386.90,36.70L386.90,44.90L388.30,44.90L388.30,50.60L389.70,50.60L389.70,54.10H390.70V55.70H391.70V56.66H392.70V57.63H393.70V58.61H394.70V59.63H395.70V60.66H396.70V61.69H397.70V62.70H398.70V63.70H399.70V64.70H400.70V65.71H401.70V66.86H402.70V68.00H403.70V69.29H404.70V70.90H405.70V72.35H406.70V73.08H407.70V73.81H408.70V74.52H409.70V75.10H410.70V75.68H411.70V76.27H412.70V77.36H413.70V78.79H414.70V79.96H415.70V80.89H416.70V81.82H417.70V82.60H418.70V83.31H419.70V84.03H420.70V84.77H421.70V85.64H422.70V86.18H423.70V86.58H424.70V86.98H425.70V87.44H426.70V88.13H427.70V88.83H428.70V89.52H429.70V90.16H430.70V90.76H431.70V91.36H432.70V91.95H433.70V92.47H434.70V92.98H435.70V93.49H436.70V93.98H437.70V94.46H438.70V94.93H439.70V95.40H440.70V95.82H441.70V96.24H442.70V96.66H443.70V97.06H444.70V97.33H445.70V97.61H446.70V97.89H447.70V98.15H448.70V98.41H449.70V98.67H450.70V98.96H451.70V99.58H452.70V100.19H453.70V100.81H454.70V101.42H455.70V102.04H456.70V102.46H457.70V102.81H458.70V103.15H459.70V103.49H460.70V103.79H461.70V104.03H462.70V104.27H463.70V104.51H464.70V104.74H465.70V104.96H466.70V105.17H467.70V105.39H468.70V105.60H469.70V105.76H470.70V105.93H471.70V106.09H472.70V106.25H473.70V106.43H474.70V106.62H475.70V106.81H476.70V107.00H477.70V107.22H478.70V107.46H479.70V107.70H480.70V107.93H481.70V108.16H482.70V108.35H483.70V108.54H484.70V108.98H485.70V109.53H486.70V109.82H487.70H488.70H489.70H490.70H491.70H492.70H493.70H494.70H495.70V110.26H496.70V110.32H497.70V110.38H498.70V110.44H499.70V110.49H500.70V110.55H501.70V110.76H502.70V111.56H503.70V112.36H504.70V112.62H505.70H506.70H507.70H508.70H509.70H510.70V113.01H511.70V113.38H512.70V113.75H513.70V114.12H514.70V114.49H515.70V114.95H516.70V115.42H517.70V115.79H518.70V116.01H519.70V116.23H520.70V116.45H521.70V116.67H522.70V116.89H523.70V117.11H524.70V117.33H525.70V117.66H526.70V118.03H527.70V118.41H528.70V118.78H529.70V119.15H530.70V119.53H531.70V119.66H532.70V119.74H533.70V119.82H534.70V119.90H535.70V119.98H536.70V120.06H537.70V120.16H538.70V120.25H539.70V120.34H540.70V120.43H541.70V120.53H542.70V120.62H543.70V120.71H544.70V120.81H545.70V120.90H546.70V121.00H547.70V121.09H548.70V121.18H549.70V121.28H550.70V121.37H551.70V121.85H552.70V122.50H553.70V122.55H554.70V122.61H555.70V122.66H556.70V122.72H557.70V122.77H558.70V122.82H559.70V122.88H560.70V122.93H561.70V122.98H562.70V123.08H563.70V123.18H564.70V123.29H565.70V123.40H566.70V123.51H567.70V123.61H568.70V123.71H569.70V123.78H570.70V123.86H571.70V123.93H572.70V124.00H573.70V124.07H574.70V124.14H575.70V124.21H576.70V124.28H577.70V124.43H578.70V124.62H579.70V124.81H580.70V125.00H581.70V125.26H582.70V125.59H583.70V125.91H584.70V126.26H585.70V126.83H586.70V127.00H587.70H588.70H589.70H590.70H591.70H592.70H593.70V128.53H594.70H595.70H596.70H597.70H598.70H599.70H600.70H601.70H602.70H603.70H604.70H605.70H606.70H607.70H608.70V129.68H609.70V130.43H610.70V130.58H611.70V130.67H612.70H613.70H614.70H615.70H616.70H617.70H618.70H619.70V131.50H620.70H621.70H622.70H623.70H624.70H625.70H626.70H627.70H628.70H629.70H630.70H631.70H632.70H633.70H634.70H635.70H636.70H637.70H638.70H639.70V132.57H640.70V133.65H641.70V134.73H642.70V135.80H643.70H644.70H645.70H646.70H647.70H648.70H649.70H650.70H651.70H652.70H653.70H654.70H655.70H656.70H657.70H658.70H659.70H660.70H661.70H662.70H663.70H664.70H665.70H666.70H667.70H668.70H669.70H670.70H671.70H672.70H673.70H674.70" fill="none" stroke="#F8766D" stroke-width="1.35"/><path d="M387.75,43.50v3.80M386.35,44.90h2.80M389.44,49.20v3.80M388.04,50.60h2.80M391.46,55.03v3.80M390.06,56.43h2.80M392.68,56.21v3.80M391.28,57.61h2.80M394.12,57.64v3.80M392.72,59.04h2.80M396.14,59.71v3.80M394.74,61.11h2.80M398.43,62.03v3.80M397.03,63.43h2.80M400.79,64.42v3.80M399.39,65.82h2.80M402.13,65.95v3.80M400.73,67.35h2.80M403.94,68.27v3.80M402.54,69.67h2.80M406.05,71.20v3.80M404.65,72.60h2.80M407.85,72.53v3.80M406.45,73.93h2.80M409.88,73.80v3.80M408.48,75.20h2.80M411.30,74.63v3.80M409.90,76.03h2.80M412.59,75.80v3.80M411.19,77.20h2.80M413.91,77.69v3.80M412.51,79.09h2.80M415.16,78.99v3.80M413.76,80.39h2.80M417.02,80.72v3.80M415.62,82.12h2.80M418.84,82.01v3.80M417.44,83.41h2.80M420.72,83.39v3.80M419.32,84.79h2.80M422.10,84.54v3.80M420.70,85.94h2.80M423.52,85.11v3.80M422.12,86.51h2.80M424.96,85.69v3.80M423.56,87.09h2.80M427.17,87.06v3.80M425.77,88.46h2.80M429.56,88.68v3.80M428.16,90.08h2.80M431.87,90.06v3.80M430.47,91.46h2.80M433.19,90.80v3.80M431.79,92.20h2.80M434.46,91.46v3.80M433.06,92.86h2.80M436.80,92.63v3.80M435.40,94.03h2.80M438.56,93.46v3.80M437.16,94.86h2.80M440.68,94.41v3.80M439.28,95.81h2.80M442.27,95.08v3.80M440.87,96.48h2.80M444.03,95.75v3.80M442.63,97.15h2.80M445.85,96.25v3.80M444.45,97.65h2.80M447.56,96.72v3.80M446.16,98.12h2.80M449.48,97.21v3.80M448.08,98.61h2.80M450.70,97.56v3.80M449.30,98.96h2.80M452.74,98.82v3.80M451.34,100.22h2.80M454.95,100.18v3.80M453.55,101.58h2.80M456.37,100.95v3.80M454.97,102.35h2.80M458.12,101.55v3.80M456.72,102.95h2.80M460.20,102.27v3.80M458.80,103.67h2.80M461.89,102.67v3.80M460.49,104.07h2.80M463.32,103.02v3.80M461.92,104.42h2.80M464.72,103.35v3.80M463.32,104.75h2.80M466.54,103.74v3.80M465.14,105.14h2.80M467.76,104.00v3.80M466.36,105.40h2.80M470.03,104.42v3.80M468.63,105.82h2.80M472.15,104.76v3.80M470.75,106.16h2.80M474.23,105.13v3.80M472.83,106.53h2.80M476.29,105.53v3.80M474.89,106.93h2.80M478.58,106.03v3.80M477.18,107.43h2.80M480.43,106.47v3.80M479.03,107.87h2.80M482.58,106.93v3.80M481.18,108.33h2.80M484.77,107.62v3.80M483.37,109.02h2.80M487.01,108.44v3.80M485.61,109.84h2.80M489.12,108.54v3.80M487.72,109.94h2.80M491.28,108.64v3.80M489.88,110.04h2.80M493.41,108.74v3.80M492.01,110.14h2.80M497.94,108.99v3.80M496.54,110.39h2.80M499.65,109.09v3.80M498.25,110.49h2.80M501.73,109.38v3.80M500.33,110.78h2.80M503.57,110.86v3.80M502.17,112.26h2.80M505.67,111.24v3.80M504.27,112.64h2.80M507.76,111.29v3.80M506.36,112.69h2.80M509.78,111.34v3.80M508.38,112.74h2.80M512.08,112.12v3.80M510.68,113.52h2.80M514.21,112.91v3.80M512.81,114.31h2.80M516.49,113.92v3.80M515.09,115.32h2.80M521.84,115.30v3.80M520.44,116.70h2.80M523.69,115.71v3.80M522.29,117.11h2.80M525.42,116.16v3.80M524.02,117.56h2.80M527.35,116.88v3.80M525.95,118.28h2.80M531.60,118.26v3.80M530.20,119.66h2.80M533.63,118.41v3.80M532.23,119.81h2.80M535.91,118.59v3.80M534.51,119.99h2.80M538.21,118.80v3.80M536.81,120.20h2.80M540.39,119.01v3.80M538.99,120.41h2.80M545.69,119.50v3.80M544.29,120.90h2.80M547.41,119.66v3.80M546.01,121.06h2.80M549.21,119.83v3.80M547.81,121.23h2.80M551.01,120.01v3.80M549.61,121.41h2.80M553.08,121.12v3.80M551.68,122.52h2.80M559.41,121.46v3.80M558.01,122.86h2.80M561.43,121.57v3.80M560.03,122.97h2.80M563.35,121.75v3.80M561.95,123.15h2.80M565.44,121.97v3.80M564.04,123.37h2.80M567.31,122.17v3.80M565.91,123.57h2.80M569.19,122.35v3.80M567.79,123.75h2.80M573.43,122.65v3.80M572.03,124.05h2.80M577.40,122.98v3.80M576.00,124.38h2.80M579.33,123.34v3.80M577.93,124.74h2.80M581.48,123.79v3.80M580.08,125.19h2.80M587.94,125.60v3.80M586.54,127.00h2.80M589.69,125.60v3.80M588.29,127.00h2.80M591.65,125.60v3.80M590.25,127.00h2.80M593.93,127.13v3.80M592.53,128.53h2.80M595.94,127.20v3.80M594.54,128.60h2.80M598.08,127.27v3.80M596.68,128.67h2.80M600.37,127.35v3.80M598.97,128.75h2.80M602.43,127.42v3.80M601.03,128.82h2.80M607.80,127.60v3.80M606.40,129.00h2.80M609.62,128.97v3.80M608.22,130.37h2.80M614.71,129.30v3.80M613.31,130.70h2.80M616.67,129.30v3.80M615.27,130.70h2.80M618.65,129.30v3.80M617.25,130.70h2.80M620.70,130.10v3.80M619.30,131.50h2.80M622.86,130.10v3.80M621.46,131.50h2.80M625.16,130.10v3.80M623.76,131.50h2.80M627.30,130.10v3.80M625.90,131.50h2.80M629.07,130.10v3.80M627.67,131.50h2.80M631.24,130.10v3.80M629.84,131.50h2.80M633.16,130.10v3.80M631.76,131.50h2.80M635.27,130.10v3.80M633.87,131.50h2.80M637.32,130.10v3.80M635.92,131.50h2.80M639.47,130.93v3.80M638.07,132.33h2.80M641.32,132.92v3.80M639.92,134.32h2.80M643.57,134.41v3.80M642.17,135.81h2.80M649.59,134.44v3.80M648.19,135.84h2.80M652.25,134.46v3.80M650.85,135.86h2.80M654.99,134.48v3.80M653.59,135.88h2.80M658.57,134.50v3.80M657.17,135.90h2.80M662.77,134.53v3.80M661.37,135.93h2.80M667.77,134.56v3.80M666.37,135.96h2.80M670.68,134.57v3.80M669.28,135.97h2.80M674.10,134.60v3.80M672.70,136.00h2.80" fill="none" stroke="#F8766D" stroke-width="0.65"/>
<path d="M385.10,27.20H386.10V27.58H387.10V27.95H388.10V28.38H389.10V28.84H390.10V29.30H391.10V30.01H392.10V30.73H393.10V31.44H394.10V32.30H395.10V33.30H396.10V34.30H397.10V35.30H398.10V36.48H399.10V37.65H400.10V38.83H401.10V40.13H402.10V41.51H403.10V42.92H404.10V44.36H405.10V45.80H406.10V47.47H407.10V49.13H408.10V50.93H409.10V52.74H410.10V54.56H411.10V55.98H412.10V57.23H413.10V58.48H414.10V59.73H415.10V60.98H416.10V62.23H417.10V63.51H418.10V64.80H419.10V66.08H420.10V67.34H421.10V68.68H422.10V70.09H423.10V70.97H424.10V71.86H425.10V72.75H426.10V73.57H427.10V74.34H428.10V75.12H429.10V75.90H430.10V76.70H431.10V77.50H432.10V78.30H433.10V79.06H434.10V79.77H435.10V80.49H436.10V81.20H437.10V81.98H438.10V82.76H439.10V83.53H440.10V84.29H441.10V85.03H442.10V85.77H443.10V86.51H444.10V87.13H445.10V87.69H446.10V88.24H447.10V88.80H448.10V89.43H449.10V90.06H450.10V90.69H451.10V91.40H452.10V92.20H453.10V93.00H454.10V93.80H455.10V94.24H456.10V94.69H457.10V95.13H458.10V95.64H459.10V96.24H460.10V96.84H461.10V97.57H462.10V98.31H463.10V99.05H464.10V99.79H465.10V100.36H466.10V100.81H467.10V101.27H468.10V101.73H469.10V102.12H470.10V102.42H471.10V102.73H472.10V103.03H473.10V103.33H474.10V103.64H475.10V103.95H476.10V104.26H477.10V104.57H478.10V104.77H479.10V104.96H480.10V105.15H481.10V105.34H482.10V105.43H483.10H484.10H485.10H486.10H487.10H488.10H489.10H490.10H491.10V105.86H492.10V105.95H493.10V106.05H494.10V106.14H495.10V106.25H496.10V106.36H497.10V106.48H498.10V106.60H499.10V106.72H500.10V106.84H501.10V106.95H502.10V107.07H503.10V107.19H504.10V107.43H505.10V107.68H506.10V107.93H507.10V108.18H508.10V108.42H509.10V108.59H510.10V108.77H511.10V108.95H512.10V109.12H513.10V109.30H514.10V109.48H515.10V109.65H516.10V109.83H517.10V109.98H518.10V110.13H519.10V110.27H520.10V110.41H521.10V110.55H522.10V110.69H523.10V110.83H524.10V110.97H525.10V111.11H526.10V111.23H527.10V111.35H528.10V111.47H529.10V111.59H530.10V111.70H531.10V111.82H532.10V111.94H533.10V112.06H534.10V112.17H535.10V112.27H536.10V112.37H537.10V112.50H538.10V112.63H539.10V112.76H540.10V112.89H541.10V113.02H542.10V113.15H543.10V113.27H544.10V113.39H545.10V113.51H546.10V113.62H547.10V113.74H548.10V113.86H549.10V113.98H550.10V114.09H551.10V114.21H552.10V114.30H553.10V114.39H554.10V114.48H555.10V114.56H556.10V114.65H557.10V114.74H558.10V114.83H559.10V114.92H560.10V115.00H561.10H562.10H563.10H564.10H565.10H566.10H567.10H568.10H569.10H570.10H571.10H572.10V116.20H573.10H574.10H575.10H576.10H577.10H578.10H579.10H580.10H581.10H582.10V117.80H583.10H584.10H585.10H586.10H587.10H588.10H589.10H590.10H591.10H592.10H593.10H594.10H595.10H596.10H597.10H598.10H599.10H600.10H601.10V118.49H602.10V118.58H603.10V118.67H604.10V118.75H605.10V118.84H606.10V118.92H607.10V119.01H608.10V119.09H609.10V119.18H610.10V119.27H611.10V119.35H612.10V119.44H613.10V119.52H614.10V119.61H615.10V119.75H616.10V119.88H617.10V120.02H618.10V120.16H619.10V120.29H620.10V120.41H621.10H622.10H623.10H624.10H625.10H626.10H627.10H628.10H629.10H630.10H631.10H632.10H633.10H634.10H635.10H636.10H637.10V121.37H638.10V122.10H639.10H640.10H641.10H642.10H643.10H644.10H645.10H646.10H647.10H648.10H649.10H650.10H651.10H652.10H653.10H654.10H655.10H656.10H657.10H658.10H659.10H660.10H661.10H662.10H663.10H664.10H665.10H666.10H667.10H668.10H669.10H670.10H671.10H672.10H673.10H674.10H674.70" fill="none" stroke="#00BFC4" stroke-width="1.35"/><path d="M387.24,26.60v3.80M385.84,28.00h2.80M388.55,27.18v3.80M387.15,28.58h2.80M390.56,28.23v3.80M389.16,29.63h2.80M392.42,29.56v3.80M391.02,30.96h2.80M394.38,31.18v3.80M392.98,32.58h2.80M396.03,32.83v3.80M394.63,34.23h2.80M397.80,34.72v3.80M396.40,36.12h2.80M399.25,36.43v3.80M397.85,37.83h2.80M400.87,38.40v3.80M399.47,39.80h2.80M402.96,41.32v3.80M401.56,42.72h2.80M405.17,44.51v3.80M403.77,45.91h2.80M406.45,46.66v3.80M405.05,48.06h2.80M407.80,48.99v3.80M406.40,50.39h2.80M409.97,52.92v3.80M408.57,54.32h2.80M411.92,55.60v3.80M410.52,57.00h2.80M414.04,58.25v3.80M412.64,59.65h2.80M415.50,60.07v3.80M414.10,61.47h2.80M417.21,62.25v3.80M415.81,63.65h2.80M418.72,64.19v3.80M417.32,65.59h2.80M420.89,66.97v3.80M419.49,68.37h2.80M422.53,69.07v3.80M421.13,70.47h2.80M424.51,70.83v3.80M423.11,72.23h2.80M426.90,72.79v3.80M425.50,74.19h2.80M428.49,74.03v3.80M427.09,75.43h2.80M430.35,75.50v3.80M428.95,76.90h2.80M432.45,77.18v3.80M431.05,78.58h2.80M434.75,78.84v3.80M433.35,80.24h2.80M436.46,80.08v3.80M435.06,81.48h2.80M438.11,81.36v3.80M436.71,82.76h2.80M439.42,82.38v3.80M438.02,83.78h2.80M441.67,84.05v3.80M440.27,85.45h2.80M442.97,85.01v3.80M441.57,86.41h2.80M444.27,85.83v3.80M442.87,87.23h2.80M446.14,86.87v3.80M444.74,88.27h2.80M447.93,87.92v3.80M446.53,89.32h2.80M449.95,89.19v3.80M448.55,90.59h2.80M451.51,90.33v3.80M450.11,91.73h2.80M453.64,92.03v3.80M452.24,93.43h2.80M454.93,92.77v3.80M453.53,94.17h2.80M456.38,93.42v3.80M454.98,94.82h2.80M458.38,94.41v3.80M456.98,95.81h2.80M459.68,95.18v3.80M458.28,96.58h2.80M461.24,96.27v3.80M459.84,97.67h2.80M463.31,97.80v3.80M461.91,99.20h2.80M465.34,99.07v3.80M463.94,100.47h2.80M466.88,99.77v3.80M465.48,101.17h2.80M468.26,100.40v3.80M466.86,101.80h2.80M469.89,100.96v3.80M468.49,102.36h2.80M471.96,101.58v3.80M470.56,102.98h2.80M473.73,102.12v3.80M472.33,103.52h2.80M475.77,102.76v3.80M474.37,104.16h2.80M478.03,103.36v3.80M476.63,104.76h2.80M480.00,103.73v3.80M478.60,105.13h2.80M481.88,104.02v3.80M480.48,105.42h2.80M483.82,104.11v3.80M482.42,105.51h2.80M486.05,104.20v3.80M484.65,105.60h2.80M487.97,104.29v3.80M486.57,105.69h2.80M489.89,104.37v3.80M488.49,105.77h2.80M491.82,104.53v3.80M490.42,105.93h2.80M493.86,104.72v3.80M492.46,106.12h2.80M495.88,104.94v3.80M494.48,106.34h2.80M497.92,105.18v3.80M496.52,106.58h2.80M500.08,105.43v3.80M498.68,106.83h2.80M501.95,105.65v3.80M500.55,107.05h2.80M506.99,106.75v3.80M505.59,108.15h2.80M509.03,107.18v3.80M507.63,108.58h2.80M511.12,107.55v3.80M509.72,108.95h2.80M512.86,107.86v3.80M511.46,109.26h2.80M515.04,108.24v3.80M513.64,109.64h2.80M518.78,108.82v3.80M517.38,110.22h2.80M521.02,109.14v3.80M519.62,110.54h2.80M526.42,109.87v3.80M525.02,111.27h2.80M528.57,110.12v3.80M527.17,111.52h2.80M530.42,110.34v3.80M529.02,111.74h2.80M532.58,110.60v3.80M531.18,112.00h2.80M534.74,110.83v3.80M533.34,112.23h2.80M536.64,111.04v3.80M535.24,112.44h2.80M538.74,111.31v3.80M537.34,112.71h2.80M540.76,111.58v3.80M539.36,112.98h2.80M542.89,111.85v3.80M541.49,113.25h2.80M544.84,112.07v3.80M543.44,113.47h2.80M546.94,112.32v3.80M545.54,113.72h2.80M549.12,112.58v3.80M547.72,113.98h2.80M551.35,112.83v3.80M549.95,114.23h2.80M553.44,113.02v3.80M552.04,114.42h2.80M555.56,113.21v3.80M554.16,114.61h2.80M557.52,113.38v3.80M556.12,114.78h2.80M559.30,113.54v3.80M557.90,114.94h2.80M561.60,113.63v3.80M560.20,115.03h2.80M563.40,113.66v3.80M562.00,115.06h2.80M565.35,113.69v3.80M563.95,115.09h2.80M567.64,113.73v3.80M566.24,115.13h2.80M572.06,114.80v3.80M570.66,116.20h2.80M577.50,114.80v3.80M576.10,116.20h2.80M579.31,114.80v3.80M577.91,116.20h2.80M584.19,116.47v3.80M582.79,117.87h2.80M586.43,116.55v3.80M585.03,117.95h2.80M590.26,116.68v3.80M588.86,118.08h2.80M592.09,116.74v3.80M590.69,118.14h2.80M594.22,116.81v3.80M592.82,118.21h2.80M596.06,116.87v3.80M594.66,118.27h2.80M597.92,116.93v3.80M596.52,118.33h2.80M600.08,117.01v3.80M598.68,118.41h2.80M602.11,117.18v3.80M600.71,118.58h2.80M604.09,117.35v3.80M602.69,118.75h2.80M606.33,117.54v3.80M604.93,118.94h2.80M608.23,117.71v3.80M606.83,119.11h2.80M610.51,117.90v3.80M609.11,119.30h2.80M612.34,118.06v3.80M610.94,119.46h2.80M618.68,118.83v3.80M617.28,120.23h2.80M620.61,119.03v3.80M619.21,120.43h2.80M622.62,119.10v3.80M621.22,120.50h2.80M624.92,119.18v3.80M623.52,120.58h2.80M626.76,119.24v3.80M625.36,120.64h2.80M631.68,119.42v3.80M630.28,120.82h2.80M633.86,119.50v3.80M632.46,120.90h2.80M635.92,119.57v3.80M634.52,120.97h2.80M637.71,120.70v3.80M636.31,122.10h2.80M639.57,120.71v3.80M638.17,122.11h2.80M641.58,120.72v3.80M640.18,122.12h2.80M643.87,120.73v3.80M642.47,122.13h2.80M645.89,120.74v3.80M644.49,122.14h2.80M648.06,120.76v3.80M646.66,122.16h2.80M654.02,120.79v3.80M652.62,122.19h2.80M656.21,120.80v3.80M654.81,122.20h2.80M660.52,120.82v3.80M659.12,122.22h2.80M662.28,120.83v3.80M660.88,122.23h2.80M664.26,120.84v3.80M662.86,122.24h2.80M670.59,120.88v3.80M669.19,122.28h2.80M674.10,120.90v3.80M672.70,122.30h2.80" fill="none" stroke="#00BFC4" stroke-width="0.65"/>
</svg>
</body></html>
